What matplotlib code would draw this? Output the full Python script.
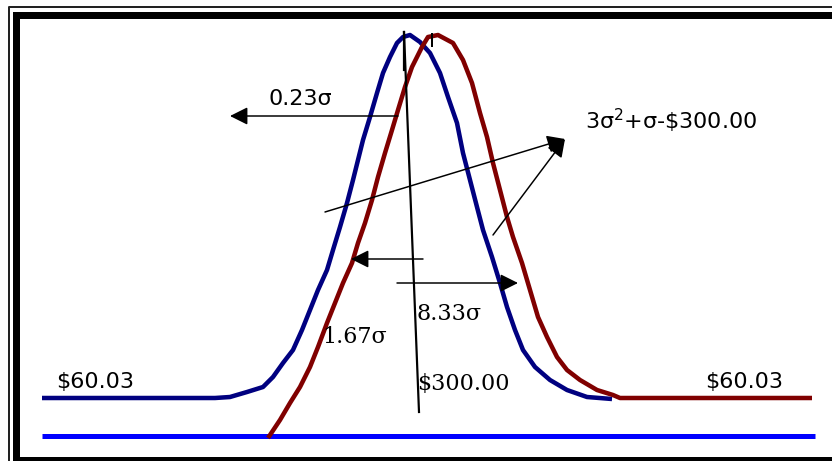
import matplotlib.pyplot as plt

# curves (x to the right, y downward, in picture units)
blue_x = [42, 215, 230, 247, 263, 273, 283, 293, 302, 310, 318, 327, 333, 340,
          347, 353, 358, 363, 370, 377, 383, 390, 397, 403, 410, 420, 430, 440,
          448, 457, 463, 470, 477, 483, 492, 500, 507, 515, 523, 535, 550, 567,
          587, 612]
blue_y = [398, 398, 397, 392, 387, 377, 363, 350, 330, 310, 290, 270, 250, 227,
          203, 180, 160, 140, 117, 93, 73, 57, 43, 37, 35, 42, 53, 73,
          97, 123, 153, 180, 207, 230, 257, 283, 307, 330, 350, 367, 380, 390,
          397, 399]

red_x = [268, 280, 290, 300, 310, 318, 327, 335, 343, 352, 358, 365, 372, 378,
         385, 392, 398, 405, 412, 422, 428, 438, 453, 463, 472, 480, 487, 493,
         500, 507, 513, 522, 530, 538, 547, 557, 567, 580, 597, 613, 620, 812]
red_y = [438, 420, 403, 387, 367, 347, 323, 303, 283, 263, 243, 223, 200, 177,
         153, 130, 110, 87, 67, 47, 37, 35, 43, 60, 83, 113, 137, 163,
         190, 217, 237, 263, 290, 317, 337, 357, 370, 380, 390, 395, 398, 398]

ref_x = [42, 815]
ref_y = [436, 436]

# labels: text, x, baseline y, family
labels = [
    ("0.23σ", 268, 105, "DejaVu Sans"),
    ("$60.03", 56, 388, "DejaVu Sans"),
    ("$60.03", 705, 388, "DejaVu Sans"),
    ("8.33σ", 417, 320, "DejaVu Serif"),
    ("1.67σ", 322, 343, "DejaVu Serif"),
    ("$300.00", 417, 390, "DejaVu Serif"),
]

# arrows: start -> tip
arrows = [
    ((398, 116), (230, 116)),
    ((423, 259), (351, 259)),
    ((397, 283), (518, 283)),
    ((325, 212), (565, 139)),
    ((493, 235), (565, 139)),
]

W, H = 832, 461
px = 0.72  # one pixel in points at dpi 100

fig = plt.figure(figsize=(W / 100, H / 100), dpi=100)
ax = fig.add_axes([0, 0, 1, 1])
ax.set_xlim(0, W)
ax.set_ylim(H, 0)
ax.axis("off")

# frame (double border, runs off the right and bottom edge)
ax.plot([8.5, 8.5, 900], [500, 7.5, 7.5], color="#222222", lw=2 * px)
ax.plot([15.5, 15.5, 900, 900, 15.5], [459.5, 15.5, 15.5, 459.5, 459.5],
        color="black", lw=7 * px, solid_joinstyle="miter")

ax.plot(ref_x, ref_y, color="#0000ff", lw=5 * px, solid_capstyle="butt")
ax.plot(blue_x, blue_y, color="#000080", lw=4.5 * px, solid_capstyle="butt")
ax.plot(red_x, red_y, color="#800000", lw=4.5 * px, solid_capstyle="butt")

# vertical marker lines
ax.plot([404, 419], [32, 412], color="black", lw=2.2 * px)
ax.plot([404, 404], [32, 70], color="black", lw=2.2 * px)
ax.plot([432, 432], [34, 46], color="black", lw=2 * px)

for (x0, y0), (x1, y1) in arrows:
    ax.annotate("", xy=(x1, y1), xytext=(x0, y0),
                arrowprops=dict(arrowstyle="-|>,head_length=0.6,head_width=0.3",
                                mutation_scale=18, color="black",
                                lw=1.5 * px, shrinkA=0, shrinkB=0))

for txt, x, y, fam in labels:
    ax.text(x, y, txt, family=fam, fontsize=16, va="baseline", ha="left")

ax.text(585, 129, r"3σ$^2$+σ-\$300.00", family="DejaVu Sans", fontsize=16,
        va="baseline", ha="left")

fig.savefig("out.png", dpi=100)
